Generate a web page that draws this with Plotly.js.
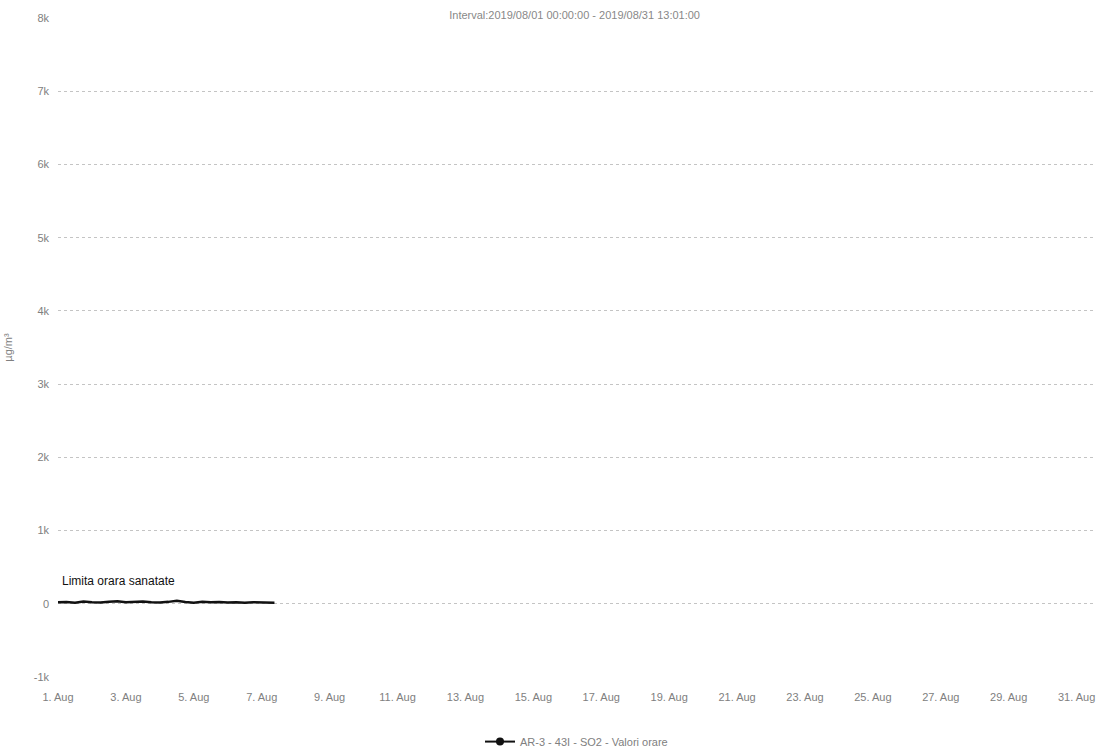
<!DOCTYPE html>
<html>
<head>
<meta charset="utf-8">
<script src="https://cdn.plot.ly/plotly-3.0.1.min.js"></script>
<style>html,body{margin:0;padding:0;background:#fff;}#chart{width:1105px;height:756px;}</style>
</head>
<body>
<div id="chart"></div>
<script>
// Hourly SO2 readings (sampled every 6 h), µg/m³
const times = [
  "2019-08-01 00:00","2019-08-01 06:00","2019-08-01 12:00","2019-08-01 18:00",
  "2019-08-02 00:00","2019-08-02 06:00","2019-08-02 12:00","2019-08-02 18:00",
  "2019-08-03 00:00","2019-08-03 06:00","2019-08-03 12:00","2019-08-03 18:00",
  "2019-08-04 00:00","2019-08-04 06:00","2019-08-04 12:00","2019-08-04 18:00",
  "2019-08-05 00:00","2019-08-05 06:00","2019-08-05 12:00","2019-08-05 18:00",
  "2019-08-06 00:00","2019-08-06 06:00","2019-08-06 12:00","2019-08-06 18:00",
  "2019-08-07 00:00","2019-08-07 06:00","2019-08-07 09:00"
];
const so2 = [
  20, 25, 15, 30, 22, 18, 28, 35, 20, 25, 30, 22,
  18, 26, 40, 24, 15, 28, 20, 25, 18, 22, 15, 20,
  18, 12, 15
];
const seriesName = "AR-3 - 43I - SO2 - Valori orare";
const chartTitle = "Interval:2019/08/01 00:00:00 - 2019/08/31 13:01:00";
const yTickVals = [-1000, 0, 1000, 2000, 3000, 4000, 5000, 6000, 7000, 8000];
const yTickText = ["-1k", "0", "1k", "2k", "3k", "4k", "5k", "6k", "7k", "8k"];
const limitLabel = "Limita orara sanatate";
const limitValue = 350;

const traces = [
  {
    x: times, y: so2, type: "scatter", mode: "lines",
    line: {color: "#111111", width: 2.5},
    showlegend: false, name: seriesName, hoverinfo: "x+y"
  },
  {
    x: [null], y: [null], type: "scatter", mode: "lines+markers",
    line: {color: "#111111", width: 2}, marker: {color: "#111111", size: 8, symbol: "circle"},
    name: seriesName, showlegend: true
  }
];

const layout = {
  width: 1105, height: 756,
  margin: {l: 58, r: 10, t: 18, b: 79, autoexpand: false},
  paper_bgcolor: "#ffffff", plot_bgcolor: "#ffffff",
  font: {family: "Liberation Sans, Arial, sans-serif", color: "#777777", size: 11},
  title: {text: chartTitle, x: 0.52, xanchor: "center", y: 0.985, yanchor: "top",
          font: {size: 11, color: "#888888"}},
  xaxis: {
    type: "date",
    range: ["2019-08-01 00:00", "2019-08-31 13:00"],
    tickmode: "linear", tick0: "2019-08-01", dtick: 2 * 86400000,
    tickformat: "%-d. %b",
    showgrid: false, zeroline: false, showline: false,
    ticks: "", ticklabelstandoff: 12,
    tickfont: {size: 11, color: "#808080"}
  },
  yaxis: {
    range: [-1000, 8000],
    tickmode: "array", tickvals: yTickVals, ticktext: yTickText,
    showgrid: true, gridcolor: "#c4c4c4", griddash: "dot", gridwidth: 1,
    zeroline: false, showline: false, ticks: "",
    ticklabelstandoff: 8,
    tickfont: {size: 11, color: "#808080"},
    title: {text: "µg/m³", standoff: 18, font: {size: 11, color: "#808080"}}
  },
  legend: {
    orientation: "h", x: 0.5, xanchor: "center", y: -0.098, yanchor: "middle",
    font: {size: 11, color: "#808080"}, bgcolor: "rgba(0,0,0,0)"
  },
  annotations: [
    {
      x: 0, xref: "paper", xanchor: "left", xshift: 2,
      y: limitValue, yref: "y", yanchor: "bottom", yshift: -12,
      text: limitLabel, showarrow: false,
      font: {size: 12, color: "#111111"}
    }
  ]
};

Plotly.newPlot("chart", traces, layout, {displayModeBar: false, responsive: false});
</script>
</body>
</html>
